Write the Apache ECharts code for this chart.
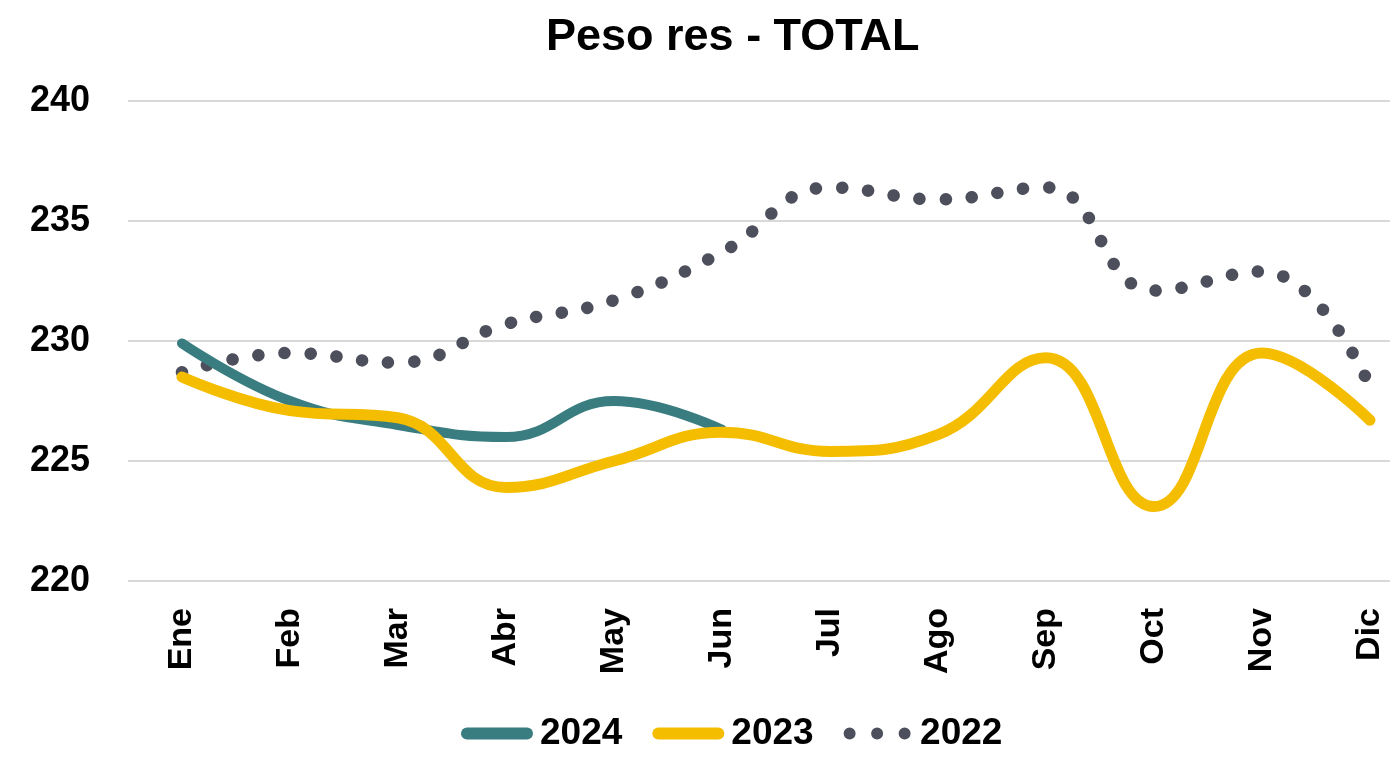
<!DOCTYPE html>
<html><head><meta charset="utf-8">
<script src="https://cdn.jsdelivr.net/npm/echarts@6/dist/echarts.min.js"></script>
<style>html,body{margin:0;padding:0;background:#fff}#c{width:1390px;height:757px}</style>
</head><body><div id="c"></div>
<script>
const categories = ['Ene','Feb','Mar','Abr','May','Jun','Jul','Ago','Sep','Oct','Nov','Dic'];
const s2024 = [229.9, 227.5, 226.5, 226.0, 227.5, 226.3];
const s2023 = [228.5, 227.1, 226.8, 223.9, 225.0, 226.2, 225.4, 226.1, 229.3, 223.1, 229.5, 226.7];
const s2022 = [228.7, 229.5, 229.1, 230.7, 231.7, 233.7, 236.4, 235.9, 236.4, 232.1, 232.9, 228.1];
const yTicks = [220, 225, 230, 235, 240];

const chart = echarts.init(document.getElementById('c'));
const font = 'Liberation Sans, Arial, sans-serif';
const capsule = 'path://M6,0 H66 A6,6 0 0 1 66,12 H6 A6,6 0 0 1 6,0 Z';
const dots = 'path://M2.5,6 A6,6 0 1 0 14.5,6 A6,6 0 1 0 2.5,6 Z M30,6 A6,6 0 1 0 42,6 A6,6 0 1 0 30,6 Z M57.5,6 A6,6 0 1 0 69.5,6 A6,6 0 1 0 57.5,6 Z';
const yMin = yTicks[0], yMax = yTicks[yTicks.length - 1];
chart.setOption({
  animation: false,
  title: { text: 'Peso res - TOTAL', left: 541, top: 10,
    textStyle: { fontFamily: font, fontWeight: 'bold', fontSize: 45, color: '#000' } },
  legend: { top: 710, left: 456, itemWidth: 72, itemHeight: 12, itemGap: 30,
    textStyle: { fontFamily: font, fontWeight: 'bold', fontSize: 37, color: '#000', padding: [0, 0, 0, 2] },
    data: [{ name: '2024', icon: capsule }, { name: '2023', icon: capsule }, { name: '2022', icon: dots }] },
  grid: [
    { left: 128, right: 0, top: 101, bottom: 176 },
    { left: 182, right: 20, top: 101, bottom: 176 }
  ],
  xAxis: [
    { gridIndex: 0, type: 'category', data: categories, show: false },
    { gridIndex: 1, type: 'category', data: categories, boundaryGap: false,
      axisLine: { show: false }, axisTick: { show: false }, splitLine: { show: false },
      axisLabel: { rotate: 90, interval: 0, fontFamily: font, fontWeight: 'bold', fontSize: 34, color: '#000', margin: 27 } }
  ],
  yAxis: [
    { gridIndex: 0, type: 'value', min: yMin, max: yMax, interval: 5,
      axisLine: { show: false }, axisTick: { show: false },
      axisLabel: { fontFamily: font, fontWeight: 'bold', fontSize: 36, color: '#000', margin: 38 },
      splitLine: { lineStyle: { color: '#d9d9d9', width: 2 } } },
    { gridIndex: 1, type: 'value', min: yMin, max: yMax, interval: 5, show: false, splitLine: { show: false } }
  ],
  series: [
    { name: '2024', type: 'line', xAxisIndex: 1, yAxisIndex: 1, data: s2024, smooth: 0.45, showSymbol: false, symbol: 'none',
      lineStyle: { color: '#3a7d80', width: 10, cap: 'round' }, itemStyle: { color: '#3a7d80' }, z: 3 },
    { name: '2023', type: 'line', xAxisIndex: 1, yAxisIndex: 1, data: s2023, smooth: 0.45, showSymbol: false, symbol: 'none',
      lineStyle: { color: '#f5bd00', width: 11, cap: 'round' }, itemStyle: { color: '#f5bd00' }, z: 4 },
    { name: '2022', type: 'line', xAxisIndex: 1, yAxisIndex: 1, data: s2022, smooth: 0.45, showSymbol: false, symbol: 'none',
      lineStyle: { color: '#4d505c', width: 12.5, type: [0.1, 26], cap: 'round' }, itemStyle: { color: '#4d505c' }, z: 2 }
  ]
});
</script></body></html>
